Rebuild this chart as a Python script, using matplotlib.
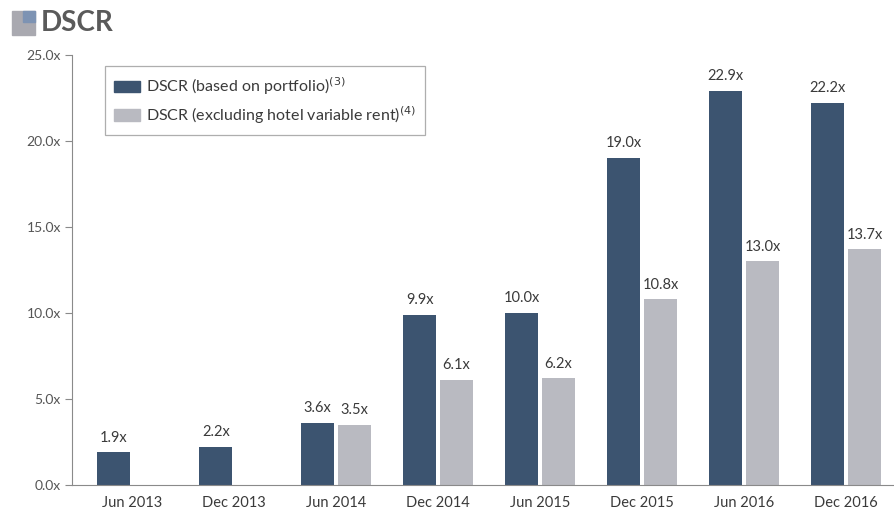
import numpy as np
import matplotlib
matplotlib.use("Agg")
import matplotlib.pyplot as plt
from matplotlib.patches import Rectangle

periods = ["Jun 2013", "Dec 2013", "Jun 2014", "Dec 2014",
           "Jun 2015", "Dec 2015", "Jun 2016", "Dec 2016"]
dscr_portfolio = [1.9, 2.2, 3.6, 9.9, 10.0, 19.0, 22.9, 22.2]
dscr_ex_hotel = [None, None, 3.5, 6.1, 6.2, 10.8, 13.0, 13.7]
y_ticks = [0, 5, 10, 15, 20, 25]

dark = "#3c5470"
light = "#b9bac1"
axis_grey = "#8a8a8a"
text_col = "#3a3a3a"

plt.rcParams["font.family"] = ["Lato", "DejaVu Sans"]

fig = plt.figure(figsize=(8.94, 5.14), dpi=100)
ax = fig.add_axes([0.0805, 0.0564, 0.9195, 0.8366])

x = np.arange(len(periods))
w = 0.32
off = 0.18

for i, v in enumerate(dscr_portfolio):
    ax.bar(x[i] - off, v, w, color=dark, zorder=2)
    ax.text(x[i] - off, v + 0.45, f"{v:.1f}x", ha="center", va="bottom",
            fontsize=10.5, color=text_col)
for i, v in enumerate(dscr_ex_hotel):
    if v is None:
        continue
    ax.bar(x[i] + off, v, w, color=light, zorder=2)
    ax.text(x[i] + off, v + 0.45, f"{v:.1f}x", ha="center", va="bottom",
            fontsize=10.5, color=text_col)

ax.set_xlim(-0.59, 7.47)
ax.set_ylim(0, 25)
ax.set_yticks(y_ticks)
ax.set_yticklabels([f"{t:.1f}x" for t in y_ticks])
ax.set_xticks(x)
ax.set_xticklabels(periods)
ax.tick_params(axis="x", length=0, pad=8, labelsize=10.5, labelcolor=text_col)
ax.tick_params(axis="y", length=5, width=0.8, color=axis_grey, pad=3,
               labelsize=10, labelcolor="#555555")
for s in ["top", "right"]:
    ax.spines[s].set_visible(False)
for s in ["left", "bottom"]:
    ax.spines[s].set_color(axis_grey)
    ax.spines[s].set_linewidth(0.8)

handles = [Rectangle((0, 0), 1, 1, color=dark), Rectangle((0, 0), 1, 1, color=light)]
labels = ["DSCR (based on portfolio)$^{(3)}$",
          "DSCR (excluding hotel variable rent)$^{(4)}$"]
leg = ax.legend(handles, labels, loc="upper left", bbox_to_anchor=(0.040, 0.974),
                borderaxespad=0, fontsize=11.5, frameon=True, fancybox=False,
                edgecolor="#9a9a9a", handlelength=1.6, handleheight=0.7,
                labelspacing=0.4, borderpad=0.6, handletextpad=0.35)
leg.get_frame().set_linewidth(0.9)
for t in leg.get_texts():
    t.set_color(text_col)

# title with small square marker
fig.patches.append(Rectangle((12 / 894, 1 - 35 / 514), 23 / 894, 24 / 514,
                             transform=fig.transFigure, color="#a9a9b0"))
fig.patches.append(Rectangle((23 / 894, 1 - 22 / 514), 12 / 894, 11 / 514,
                             transform=fig.transFigure, color="#7d93b3"))
fig.text(41 / 894, 1 - 23 / 514, "DSCR", fontsize=20, fontweight="bold",
         color="#5a5a5a", va="center", ha="left")

fig.savefig("out.png", dpi=100)
